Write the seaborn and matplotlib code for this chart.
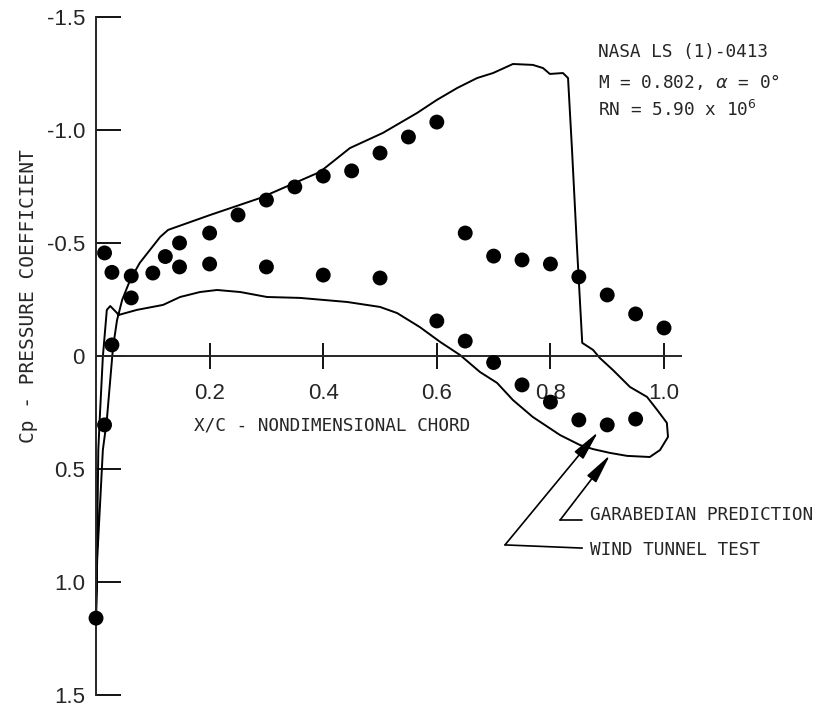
"""
Pressure distribution on the NASA LS(1)-0413 airfoil: wind tunnel points
against the Garabedian prediction.
"""

import numpy as np
import pandas as pd
import matplotlib
matplotlib.use("Agg")
import matplotlib.pyplot as plt
import seaborn as sns

### Data ###

# wind tunnel test, upper surface
upper_x = [0.015, 0.028, 0.062, 0.10, 0.122, 0.147, 0.20, 0.25, 0.30, 0.35,
           0.40, 0.45, 0.50, 0.55, 0.60, 0.65, 0.70, 0.75, 0.80, 0.85,
           0.90, 0.95, 1.00]
upper_cp = [-0.456, -0.37, -0.354, -0.367, -0.44, -0.50, -0.544, -0.624, -0.69,
            -0.748, -0.796, -0.819, -0.898, -0.969, -1.035, -0.544, -0.442,
            -0.425, -0.407, -0.35, -0.27, -0.186, -0.124]

# wind tunnel test, lower surface
lower_x = [0.0, 0.015, 0.028, 0.062, 0.147, 0.20, 0.30, 0.40, 0.50, 0.60,
           0.65, 0.70, 0.75, 0.80, 0.85, 0.90, 0.95]
lower_cp = [1.16, 0.305, -0.049, -0.257, -0.394, -0.407, -0.394, -0.358,
            -0.345, -0.155, -0.066, 0.029, 0.128, 0.204, 0.283, 0.305, 0.279]

# Garabedian prediction, one closed loop: upper surface LE -> TE, lower TE -> LE
pred_x = [0.0, 0.002, 0.012, 0.019, 0.025, 0.030, 0.037, 0.046, 0.060, 0.077,
          0.113, 0.127, 0.201, 0.289, 0.394, 0.447, 0.505, 0.565, 0.600, 0.636,
          0.671, 0.699, 0.734, 0.769, 0.787, 0.799, 0.822, 0.831, 0.838, 0.847,
          0.856, 0.875, 0.887, 0.910, 0.940, 0.970, 0.988, 1.005, 1.007, 0.993,
          0.975, 0.935, 0.905, 0.875, 0.852, 0.817, 0.769, 0.734, 0.706, 0.676,
          0.641, 0.606, 0.570, 0.530, 0.500, 0.442, 0.359, 0.301, 0.254, 0.213,
          0.183, 0.148, 0.118, 0.072, 0.039, 0.037, 0.025, 0.019, 0.016, 0.012,
          0.007, 0.004, 0.002, 0.0]
pred_cp = [1.16, 0.903, 0.416, 0.283, 0.106, -0.04, -0.159, -0.248, -0.336, -0.412,
           -0.527, -0.558, -0.624, -0.699, -0.814, -0.92, -0.987, -1.075, -1.133, -1.186,
           -1.23, -1.252, -1.292, -1.288, -1.274, -1.248, -1.252, -1.23, -0.912, -0.469,
           -0.058, -0.027, 0.009, 0.062, 0.137, 0.181, 0.239, 0.296, 0.358, 0.416,
           0.447, 0.442, 0.429, 0.412, 0.394, 0.35, 0.27, 0.195, 0.119, 0.071,
           -0.004, -0.062, -0.128, -0.19, -0.217, -0.239, -0.257, -0.261, -0.283, -0.292,
           -0.283, -0.261, -0.226, -0.204, -0.181, -0.19, -0.221, -0.204, -0.115, 0.004,
           0.252, 0.416, 0.814, 1.16]

x_ticks = [0.2, 0.4, 0.6, 0.8, 1.0]
x_tick_labels = ["0.2", "0.4", "0.6", "0.8", "1.0"]
y_ticks = [-1.5, -1.0, -0.5, 0.0, 0.5, 1.0, 1.5]
y_tick_labels = ["-1.5", "-1.0", "-0.5", "0", "0.5", "1.0", "1.5"]

### Plot ###

sns.set_style("white")
plt.rcParams["font.family"] = ["DejaVu Sans Mono", "DejaVu Sans"]
tick_font = ["Liberation Sans", "DejaVu Sans"]

df_points = pd.DataFrame({
    "x": upper_x + lower_x,
    "cp": upper_cp + lower_cp,
})
df_pred = pd.DataFrame({"x": pred_x, "cp": pred_cp})

fig = plt.figure(figsize=(8.18, 7.08), dpi=100)
ax = fig.add_axes([0.1174, 0.0184, 0.7152, 0.9576])

sns.lineplot(data=df_pred, x="x", y="cp", sort=False, estimator=None,
             color="black", lw=1.4, ax=ax, clip_on=False)
sns.scatterplot(data=df_points, x="x", y="cp", color="black", s=115,
                edgecolor="none", ax=ax, clip_on=False, zorder=3)

ax.set_xlim(0, 1.03)
ax.set_ylim(1.5, -1.5)

for side in ["top", "right"]:
    ax.spines[side].set_visible(False)
ax.spines["bottom"].set_position(("data", 0))
ax.spines["left"].set_linewidth(1.4)
ax.spines["bottom"].set_linewidth(1.4)

ax.set_xticks(x_ticks)
ax.set_xticklabels(x_tick_labels, family=tick_font)
ax.set_yticks(y_ticks)
ax.set_yticklabels(y_tick_labels, family=tick_font)
ax.tick_params(axis="x", bottom=True, direction="inout", length=19, width=1.3,
               color="black", labelsize=16, pad=10)
ax.tick_params(axis="y", left=True, direction="in", length=18, width=1.3,
               color="black", labelsize=16, pad=8)

ax.set_xlabel("X/C - NONDIMENSIONAL CHORD", fontsize=12.8, va="center")
ax.xaxis.set_label_coords(0.403, 0.397)
ax.set_ylabel("Cp - PRESSURE COEFFICIENT", fontsize=14, va="center")
ax.yaxis.set_label_coords(-0.116, 0.589)

# case description, top right
fig.text(0.731, 0.9266, "NASA LS (1)-0413", fontsize=12.8, va="center")
fig.text(0.731, 0.884, "M = 0.802, $\\alpha$ = 0°", fontsize=12.8, va="center")
fig.text(0.731, 0.845, "RN = 5.90 x 10$^6$", fontsize=12.8, va="center")

# leader lines with arrows
arrow_style = dict(arrowstyle="-|>,head_length=1.3,head_width=0.25", lw=1.2,
                   color="black", shrinkA=0, shrinkB=0, mutation_scale=14)
ax.annotate("", xy=(0.905, 0.438), xytext=(0.817, 0.726), arrowprops=arrow_style)
ax.plot([0.817, 0.856], [0.726, 0.726], color="black", lw=1.2, clip_on=False)
ax.annotate("", xy=(0.884, 0.336), xytext=(0.72, 0.836), arrowprops=arrow_style)
ax.plot([0.72, 0.856], [0.836, 0.85], color="black", lw=1.2, clip_on=False)

fig.text(0.721, 0.2726, "GARABEDIAN PREDICTION", fontsize=12.8, va="center")
fig.text(0.721, 0.2232, "WIND TUNNEL TEST", fontsize=12.8, va="center")

plt.savefig("out.png", dpi=100)
